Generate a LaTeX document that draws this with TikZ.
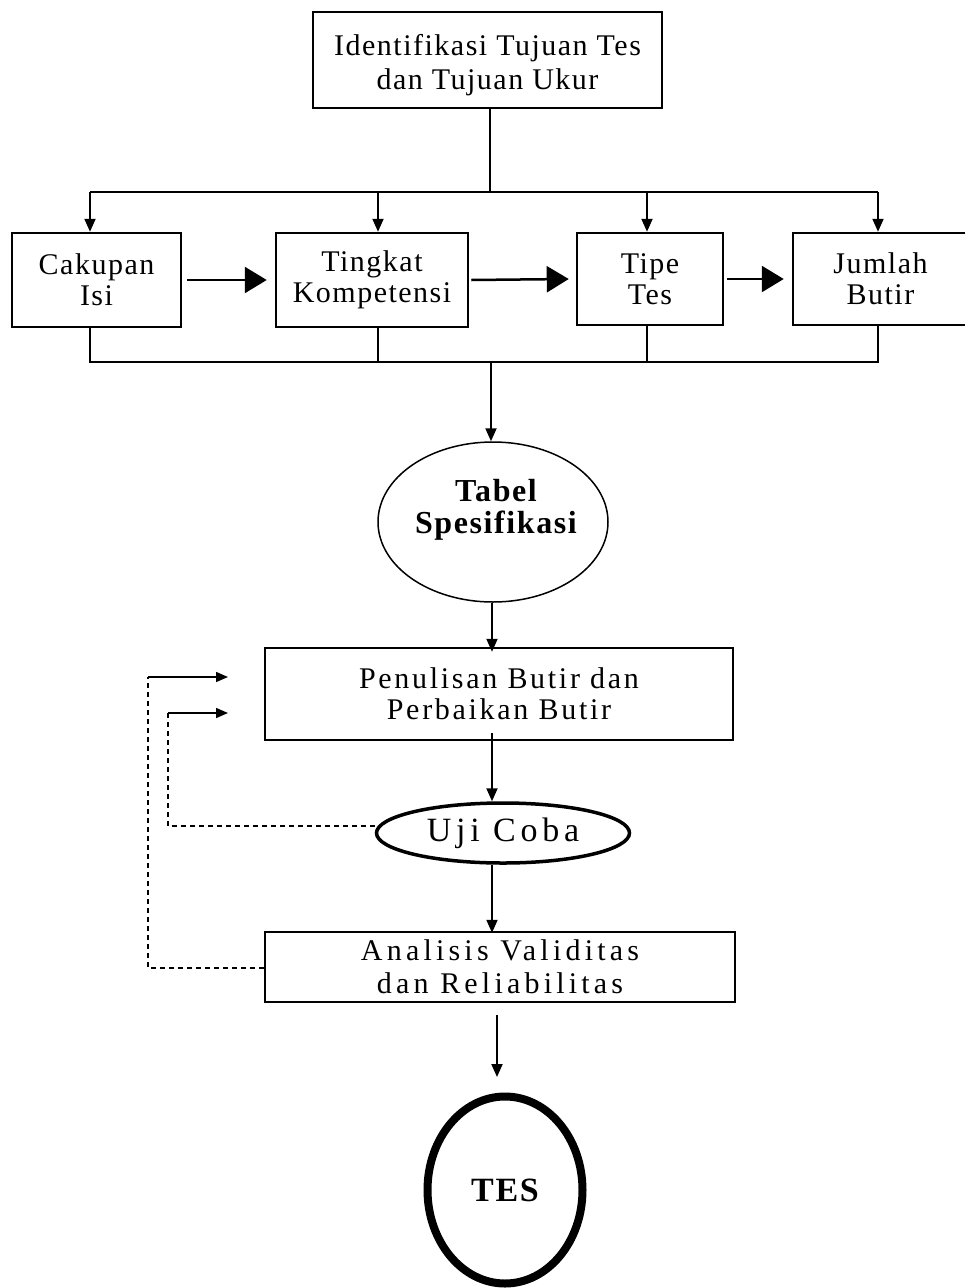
\documentclass[tikz,border=0pt]{standalone}
\usepackage{fontspec}
\setmainfont{Liberation Serif}[LetterSpace=5]
\newfontfamily\midsp{Liberation Serif}[LetterSpace=9]
\newfontfamily\widesp{Liberation Serif}[LetterSpace=14]
\usetikzlibrary{arrows.meta,shapes.geometric}
\begin{document}
\begin{tikzpicture}[x=1pt,y=-1pt,
  box/.style={draw,line width=2.5pt,rectangle,align=center,font=\fontsize{30}{31}\selectfont,inner sep=0pt},
  oval/.style={draw,line width=1.5pt,ellipse,align=center,inner sep=0pt},
  lbl/.style={align=center,inner sep=0pt},
  conn/.style={line width=2pt},
  arr/.style={line width=2pt,-{Triangle[length=13pt,width=11pt]}},
  bigarr/.style={line width=2.5pt,-{Triangle[length=22pt,width=26pt]}},
  dsh/.style={line width=1.6pt,dash pattern=on 5pt off 4pt},
  dsharr/.style={line width=1.6pt,-{Triangle[length=12pt,width=10pt]}}]
\useasboundingbox (0,0) rectangle (965,1288);
\fill[white] (0,0) rectangle (965,1288);
% nodes
\node[box,minimum width=349pt,minimum height=96pt] (top) at (487.5,60) {};
\node[lbl,font=\fontsize{30}{34}\selectfont] (toptxt) at (487.5,65) {Identifikasi Tujuan Tes\\dan Tujuan Ukur};
\node[box,minimum width=169pt,minimum height=94pt] (cak) at (96.5,280) {Cakupan\\Isi};
\node[box,minimum width=192pt,minimum height=94pt] (ting) at (372,280) {Tingkat\\Kompetensi};
\node[box,minimum width=146pt,minimum height=92pt] (tipe) at (650,279) {Tipe\\Tes};
\node[box,minimum width=175pt,minimum height=92pt] (jum) at (880.5,279) {Jumlah\\Butir};
\node[oval,minimum width=230pt,minimum height=160pt] (tabel) at (493,522) {};
\node[lbl,font=\bfseries\fontsize{32}{32}\selectfont] (tabeltxt) at (496,510) {Tabel\\Spesifikasi};
\node[box,minimum width=468pt,minimum height=92pt,font=\midsp\fontsize{30}{31}\selectfont] (pen) at (499,694) {Penulisan Butir dan\\Perbaikan Butir};
\node[oval,line width=3.5pt,minimum width=253pt,minimum height=60pt,font=\widesp\fontsize{34}{34}\selectfont] (uji) at (503,833) {Uji Coba};
\node[box,minimum width=470pt,minimum height=70pt,font=\widesp\fontsize{30}{33}\selectfont] (ana) at (500,967) {Analisis Validitas\\dan Reliabilitas};
\node[oval,line width=8pt,minimum width=155pt,minimum height=187pt,font=\bfseries\fontsize{34}{34}\selectfont] (tes) at (505,1190) {TES};
% top distribution
\coordinate (j1) at (490,192);
\coordinate (d1) at (90,192);
\coordinate (d2) at (378,192);
\coordinate (d3) at (647,192);
\coordinate (d4) at (878,192);
\draw[conn] (top.south -| j1) -- (j1);
\draw[conn] (d1) -- (d4);
\draw[arr] (d1) -- (d1 |- cak.north);
\draw[arr] (d2) -- (d2 |- ting.north);
\draw[arr] (d3) -- (d3 |- tipe.north);
\draw[arr] (d4) -- (d4 |- jum.north);
% horizontal big arrows
\draw[bigarr] ([xshift=5pt]cak.east) -- ([xshift=-8pt]ting.west);
\draw[bigarr] ([xshift=2pt]ting.east) -- ([xshift=-7pt]tipe.west);
\draw[bigarr] ([xshift=3pt]tipe.east) -- ([xshift=-8pt]jum.west);
% bottom gathering
\coordinate (g1) at (90,362);
\coordinate (g2) at (378,362);
\coordinate (g3) at (647,362);
\coordinate (g4) at (878,362);
\coordinate (g0) at (491,362);
\draw[conn] (g1 |- cak.south) -- (g1) -- (g4) -- (g4 |- jum.south);
\draw[conn] (g2 |- ting.south) -- (g2);
\draw[conn] (g3 |- tipe.south) -- (g3);
\draw[arr] (g0) -- (g0 |- tabel.north);
% main flow
\coordinate (m1) at (492,0);
\draw[arr] (m1 |- tabel.south) -- ([yshift=-5pt]m1 |- pen.north);
\draw[arr] ([yshift=8pt]m1 |- pen.south) -- (m1 |- uji.north);
\draw[arr] (m1 |- uji.south) -- ([yshift=-2pt]m1 |- ana.north);
\coordinate (a1) at (497,1015);
\coordinate (a2) at (497,1077);
\draw[arr] (a1) -- (a2);
% feedback dashed
\coordinate (f1) at (168,826);
\coordinate (f1u) at (168,713);
\coordinate (f1e) at (228,713);
\coordinate (f2) at (148,968);
\coordinate (f2u) at (148,677);
\coordinate (f2e) at (228,677);
\draw[dsh] (uji.west |- f1) -- (f1) -- (f1u);
\draw[dsharr] (f1u) -- (f1e);
\draw[dsh] (ana.west |- f2) -- (f2) -- (f2u);
\draw[dsharr] (f2u) -- (f2e);
\end{tikzpicture}
\end{document}
